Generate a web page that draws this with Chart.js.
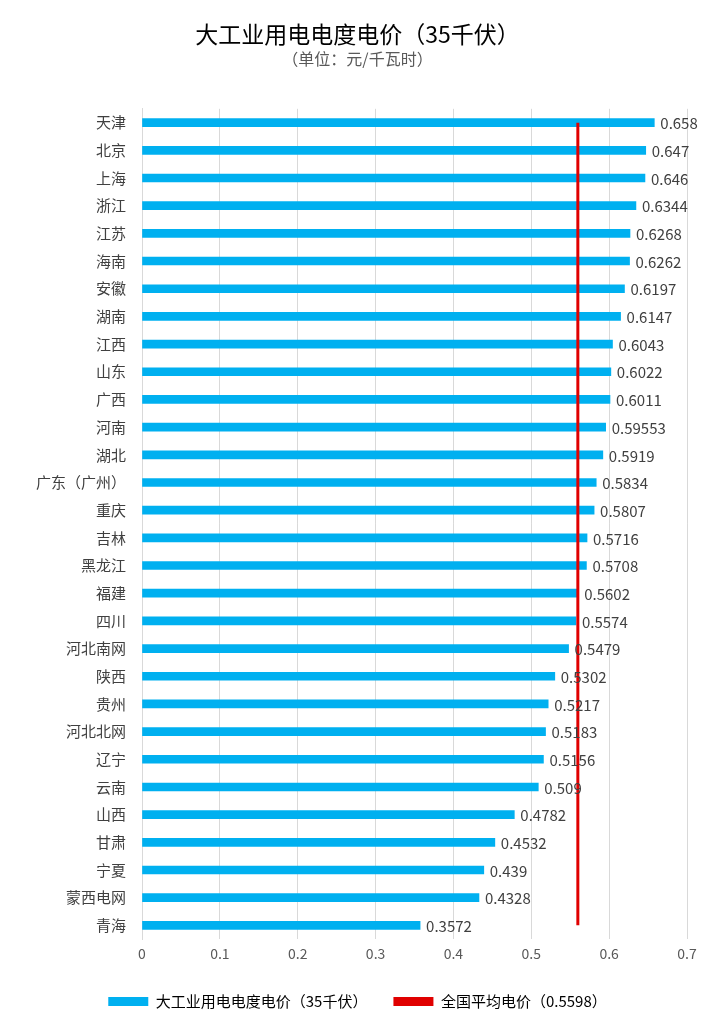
<!DOCTYPE html>
<html><head><meta charset="utf-8">
<script src="https://cdn.jsdelivr.net/npm/chart.js@4"></script>
<style>body{margin:0;background:#fff}#wrap{width:711px;height:1033px}</style>
</head><body><div id="wrap"><canvas id="myChart"></canvas></div>
<script>
const provinces = ['天津','北京','上海','浙江','江苏','海南','安徽','湖南','江西','山东','广西','河南','湖北','广东（广州）','重庆','吉林','黑龙江','福建','四川','河北南网','陕西','贵州','河北北网','辽宁','云南','山西','甘肃','宁夏','蒙西电网','青海'];
const prices = [0.658,0.647,0.646,0.6344,0.6268,0.6262,0.6197,0.6147,0.6043,0.6022,0.6011,0.59553,0.5919,0.5834,0.5807,0.5716,0.5708,0.5602,0.5574,0.5479,0.5302,0.5217,0.5183,0.5156,0.509,0.4782,0.4532,0.439,0.4328,0.3572];
const avgPrice = 0.5598;
const xTicks = [0,0.1,0.2,0.3,0.4,0.5,0.6,0.7];
const FONT = '"Noto Sans CJK SC", sans-serif';

const valueLabels = {
  id: 'valueLabels',
  afterDatasetsDraw(chart) {
    const ctx = chart.ctx;
    const meta = chart.getDatasetMeta(0);
    ctx.save();
    ctx.font = '15px ' + FONT;
    ctx.fillStyle = '#404040';
    ctx.textBaseline = 'middle';
    meta.data.forEach((bar, i) => {
      ctx.fillText(String(prices[i]), bar.x + 6, bar.y + 1);
    });
    ctx.restore();
  }
};

var ctx = document.getElementById('myChart').getContext('2d');
var myChart = new Chart(ctx, {
  data: {
    labels: provinces,
    datasets: [{
      type: 'bar',
      label: '大工业用电电度电价（35千伏）',
      data: prices,
      backgroundColor: '#00b0f0',
      barThickness: 8,
      order: 2
    }, {
      type: 'line',
      label: '全国平均电价（' + avgPrice + '）',
      data: provinces.map(() => avgPrice),
      borderColor: '#e00000',
      backgroundColor: '#e00000',
      borderWidth: 3,
      pointRadius: 0,
      order: 1
    }]
  },
  options: {
    indexAxis: 'y',
    responsive: true,
    maintainAspectRatio: false,
    animation: false,
    layout: { padding: { left: 28, right: 24, top: 12, bottom: 14 } },
    scales: {
      x: {
        min: 0, max: 0.7,
        afterBuildTicks: axis => { axis.ticks = xTicks.map(v => ({ value: v })); },
        ticks: { color: '#595959', font: { family: FONT, size: 14 }, padding: 6 },
        grid: { color: '#d9d9d9', drawTicks: false },
        border: { display: false }
      },
      y: {
        ticks: { color: '#404040', font: { family: FONT, size: 15 }, autoSkip: false, padding: 8 },
        grid: { display: false },
        border: { color: '#d9d9d9' }
      }
    },
    plugins: {
      title: {
        display: true, text: '大工业用电电度电价（35千伏）',
        color: '#000', font: { family: FONT, size: 23, weight: 'normal' }, padding: { top: 8, bottom: 2 }
      },
      subtitle: {
        display: true, text: '（单位：元/千瓦时）',
        color: '#595959', font: { family: FONT, size: 16 }, padding: { bottom: 40 }
      },
      legend: {
        position: 'bottom',
        labels: {
          color: '#404040', font: { family: FONT, size: 15 }, boxWidth: 40, boxHeight: 9, padding: 26,
          generateLabels: chart => chart.data.datasets.map((d, i) => ({
            text: d.label, fillStyle: d.backgroundColor, strokeStyle: d.backgroundColor,
            lineWidth: 0, datasetIndex: i
          }))
        }
      },
      tooltip: { enabled: false }
    }
  },
  plugins: [valueLabels]
});
</script></body></html>
